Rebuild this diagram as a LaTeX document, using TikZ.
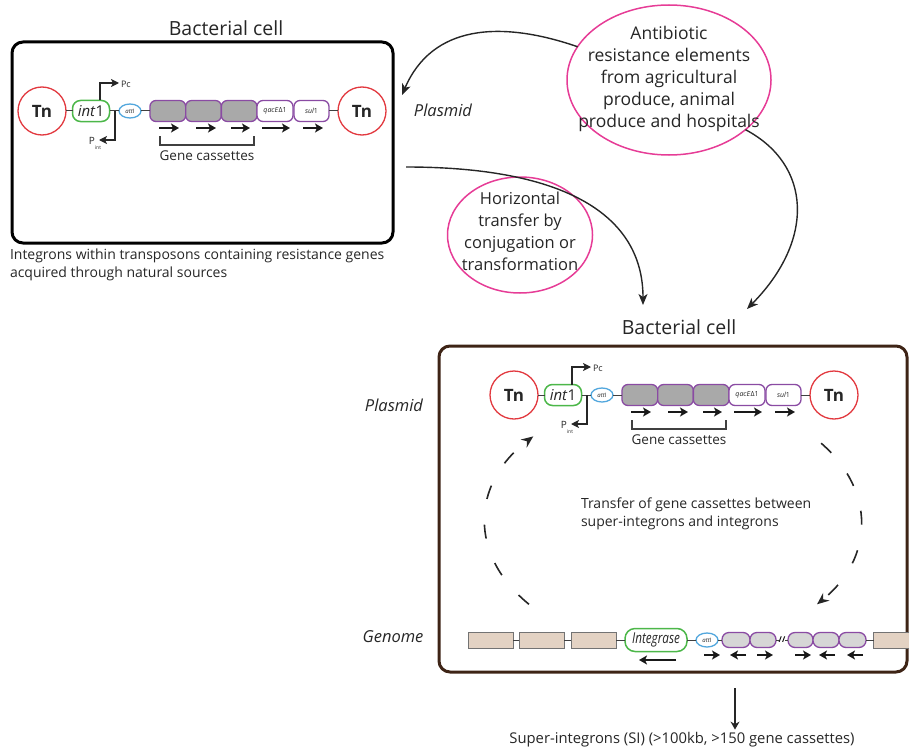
\documentclass[tikz,border=0pt]{standalone}
\usepackage{fontspec}
\setmainfont{Open Sans}
\usetikzlibrary{arrows.meta,shapes.geometric}
\definecolor{tnred}{HTML}{E2393F}
\definecolor{intgreen}{HTML}{4CB749}
\definecolor{attblue}{HTML}{52A7DD}
\definecolor{caspurple}{HTML}{8A4BA3}
\definecolor{casgray}{HTML}{A9A9A9}
\definecolor{lightcas}{HTML}{D6D6D6}
\definecolor{pinkline}{HTML}{E63C96}
\definecolor{cellbrown}{HTML}{3E2416}
\definecolor{beige}{HTML}{E3D2C3}
\definecolor{txtgray}{HTML}{262626}
\tikzset{
  every node/.style={inner sep=0pt, outer sep=0pt, text=txtgray},
  tn/.style={circle, draw=tnred, line width=1.3pt, minimum size=48pt, fill=white,
    font=\fontsize{17}{17}\selectfont\bfseries},
  intbox/.style={rectangle, rounded corners=8pt, draw=intgreen, line width=1.5pt,
    minimum width=37pt, minimum height=21pt, fill=white, font=\fontsize{15}{15}\selectfont},
  attbox/.style={ellipse, draw=attblue, line width=1.3pt, minimum width=22pt,
    minimum height=14pt, fill=white, font=\fontsize{6}{6}\selectfont},
  cas/.style={rectangle, rounded corners=6pt, draw=caspurple, line width=1.3pt,
    fill=casgray, minimum width=35.7pt, minimum height=21pt},
  wcas/.style={cas, fill=white, font=\fontsize{7}{7}\selectfont},
  gcas/.style={rectangle, rounded corners=7pt, draw=caspurple, line width=1.3pt,
    fill=lightcas, minimum height=15pt},
  beigebox/.style={rectangle, draw=black!55, line width=1pt, fill=beige,
    minimum width=45pt, minimum height=16pt},
  link/.style={line width=1pt, draw=black!75},
  prom/.style={line width=1.3pt, draw=black!85, -{Stealth[length=8pt,width=8pt,inset=2pt]}},
  sarrow/.style={line width=1.5pt, draw=black!90, -{Stealth[length=8pt,width=9pt,inset=2pt]}},
  bigarrow/.style={line width=1.4pt, draw=txtgray, -{Stealth[length=11pt,width=9pt,inset=3pt]}},
  dasharc/.style={line width=1.6pt, draw=txtgray, dash pattern=on 14pt off 26pt,
    -{Stealth[length=12pt,width=10pt,inset=4pt]}},
  pinkell/.style={ellipse, draw=pinkline, line width=1.5pt},
  cellbox/.style={rectangle, rounded corners=11pt, line width=3pt},
  bracketline/.style={line width=1.2pt, draw=black!75},
  small/.style={font=\fontsize{14}{18}\selectfont},
  mid/.style={font=\fontsize{17.5}{22}\selectfont},
  midb/.style={font=\fontsize{16.5}{22}\selectfont},
  title/.style={font=\fontsize{19.5}{19.5}\selectfont},
  lab/.style={font=\fontsize{16.5}{16.5}\selectfont\itshape},
  integron/.pic={
    \node[tn] (-tnl) at (0,0) {Tn};
    \node[intbox] (-int) at (49,0) {\textit{int}1};
    \node[attbox] (-att) at (88,0) {\textit{att}I};
    \node[cas] (-c1) at (125.8,0) {};
    \node[cas] (-c2) at (161.5,0) {};
    \node[cas] (-c3) at (197.2,0) {};
    \node[wcas, minimum width=36pt] (-qac) at (233,0) {\textit{qacE}Δ1};
    \node[wcas, minimum width=35pt] (-sul) at (269.5,0) {\textit{sul}1};
    \node[tn] (-tnr) at (320,0) {Tn};
    \draw[link] (-tnl) -- (-int);
    \draw[link] (-int) -- (-att);
    \draw[link] (-att) -- (-c1);
    \draw[link] (-sul) -- (-tnr);
    % promoters
    \coordinate (-pc) at (77,-28);
    \draw[prom] ([xshift=9pt]-int.north) |- (-pc);
    \node[anchor=west, font=\fontsize{9}{9}\selectfont] (-pclab) at (79,-27) {Pc};
    \coordinate (-pb) at (73,0);
    \coordinate (-pi) at (57,29);
    \draw[prom] (-pb) |- (-pi);
    \node[font=\fontsize{10}{10}\selectfont] (-pilab) at (53,32)
      {P\raisebox{-5pt}{\fontsize{5}{5}\selectfont int}};
    % transcription arrows
    \foreach \a/\b in {117/137, 154/174, 189/208, 220/248, 261/281}
      \draw[sarrow] (\a,17) -- (\b,17);
    % bracket
    \draw[bracketline] (118,25) -- (118,34) -- (212,34) -- (212,25);
    \node[font=\fontsize{13.5}{13.5}\selectfont] (-gc) at (165,45) {Gene cassettes};
  }
}
\begin{document}
\begin{tikzpicture}[x=1pt,y=-1pt]
\useasboundingbox (0,0) rectangle (909,749);

% ---------- top cell ----------
\node[title] (title1) at (226,28) {Bacterial cell};
\node[cellbox, draw=black, minimum width=381pt, minimum height=201pt] (cell1) at (202.5,142.5) {};
\pic (top) at (42,111) {integron};
\node[lab] (plasmid1) at (443,110) {Plasmid};
\node[small, align=left, anchor=north west] (cap1) at (10,249)
  {Integrons within transposons containing resistance genes\\acquired through natural sources};

% ---------- source ellipse ----------
\node[pinkell, minimum width=204pt, minimum height=150pt] (src) at (669,80) {};
\node[mid, align=center] (srctxt) at (669,79)
  {Antibiotic\\resistance elements\\from agricultural\\produce, animal\\produce and hospitals};

% ---------- horizontal transfer ellipse ----------
\node[pinkell, minimum width=145pt, minimum height=116pt] (htr) at (520,235) {};
\node[midb, align=center] (htrtxt) at (520,231)
  {Horizontal\\transfer by\\conjugation or\\transformation};

% ---------- bottom cell ----------
\node[title] (title2) at (679,327) {Bacterial cell};
\node[cellbox, draw=cellbrown, minimum width=468pt, minimum height=326pt] (cell2) at (673,509) {};
\pic (bot) at (514,395) {integron};
\node[lab] (plasmid2) at (394,405) {Plasmid};
\node[lab] (genome) at (393,637) {Genome};
\node[small, align=left, anchor=west] (transfer) at (581,514)
  {Transfer of gene cassettes between\\super-integrons and integrons};

% genome row
\node[beigebox] (g1) at (490.5,640) {};
\node[beigebox] (g2) at (541.5,640) {};
\node[beigebox] (g3) at (593.5,640) {};
\node[rectangle, rounded corners=10pt, draw=intgreen, line width=1.5pt, fill=white,
  minimum width=62pt, minimum height=23pt, font=\fontsize{15}{15}\selectfont\itshape]
  (integrase) at (656,640) {\scalebox{0.78}[1]{Integrase}};
\node[attbox] (gatt) at (707,640) {\textit{att}I};
\node[gcas, minimum width=28pt] (k1) at (736,640) {};
\node[gcas, minimum width=26pt] (k2) at (763,640) {};
\node[font=\fontsize{8}{8}\selectfont\bfseries, text=black] (brk) at (782,640) {//};
\node[gcas, minimum width=25pt] (k3) at (800.5,640) {};
\node[gcas, minimum width=26pt] (k4) at (826,640) {};
\node[gcas, minimum width=27pt] (k5) at (852.5,640) {};
\node[beigebox] (g4) at (896,640) {};
\draw[link] (g1) -- (g2);
\draw[link] (g2) -- (g3);
\draw[link] (g3) -- (integrase);
\draw[link] (integrase) -- (gatt);
\draw[link] (gatt) -- (k1);
\draw[link] (k2) -- (brk);
\draw[link] (brk) -- (k3);
\draw[link] (k5) -- (g4);
\draw[sarrow] (676,660) -- (639,660);
\foreach \a/\b in {704/720, 746/730, 757/773, 795/811, 835/819, 863/847}
  \draw[sarrow] (\a,655) -- (\b,655);

% dashed transfer cycle
\coordinate (cyc) at (673,522);
\draw[dasharc] (cyc) ++(140:188 and 128) arc[start angle=140, end angle=222, x radius=188, y radius=128];
\draw[dasharc] (cyc) ++(-38:188 and 128) arc[start angle=-38, end angle=40, x radius=188, y radius=128];

% below bottom cell
\node[font=\fontsize{14.8}{14.8}\selectfont] (si) at (682,740)
  {Super-integrons (SI) (>100kb, >150 gene cassettes)};
\coordinate (sitop) at (735,688);
\draw[line width=1.4pt, draw=txtgray, -{Stealth[length=8pt,width=9pt]}] (sitop) -- ([yshift=3pt]sitop |- si.north);

% ---------- curved connectors ----------
\coordinate (e1) at (402,95);
\draw[bigarrow] (src.160) .. controls (500,20) and (432,25) .. (e1);
\coordinate (e2) at (747,309);
\draw[bigarrow] (src.-33) .. controls (812,165) and (815,240) .. (e2);
\coordinate (s3) at (406,167);
\coordinate (e3) at (643,305);
\draw[bigarrow] (s3) .. controls (565,167) and (643,215) .. (e3);
\end{tikzpicture}
\end{document}
